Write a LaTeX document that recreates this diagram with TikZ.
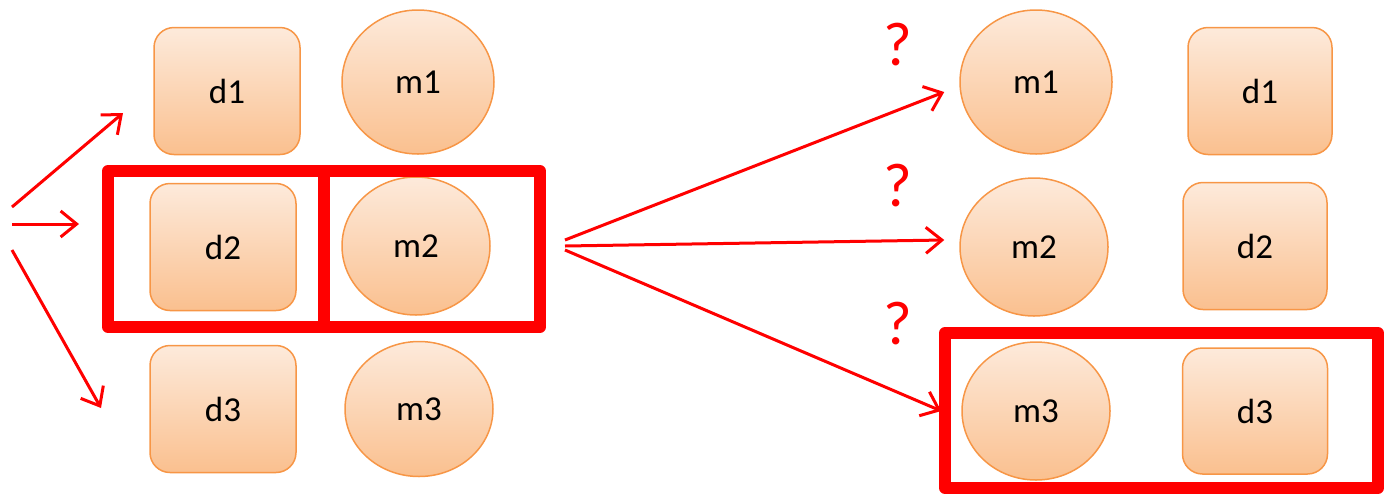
\documentclass[tikz,border=0pt]{standalone}
\usepackage{fontspec}
\setmainfont{Carlito}
\usetikzlibrary{shapes.geometric,arrows.meta}
\definecolor{boxtop}{RGB}{253,234,219}
\definecolor{boxbot}{RGB}{250,192,143}
\definecolor{boxline}{RGB}{247,150,70}
\definecolor{mark}{RGB}{255,0,0}
\tikzset{
  base/.style={draw=boxline, line width=1.5pt, top color=boxtop, bottom color=boxbot,
    inner sep=0pt, font=\fontsize{35}{35}\selectfont},
  docbox/.style={base, rectangle, rounded corners=20pt, minimum width=146pt, minimum height=127pt},
  modell/.style={base, ellipse, minimum width=148pt, minimum height=138pt},
  frame/.style={draw=mark, line width=12pt, line join=round},
  pointer/.style={draw=mark, line width=3pt, -{Straight Barb[length=16pt,width=26pt,line width=3pt]}},
  qmark/.style={text=mark, font=\fontsize{62}{62}\selectfont, inner sep=0pt}
}
\begin{document}
\begin{tikzpicture}[x=1pt,y=-1pt]
\useasboundingbox (0,0) rectangle (1384,499);

% left column
\node[docbox] (ld1) at (227,91) {d1};
\node[modell, minimum width=152pt, minimum height=144pt] (lm1) at (418,82) {m1};
\node[docbox] (ld2) at (223,247) {d2};
\node[modell] (lm2) at (416,246) {m2};
\node[docbox] (ld3) at (223,409) {d3};
\node[modell, minimum height=135pt] (lm3) at (419,409) {m3};

% right column
\node[modell, minimum width=152pt, minimum height=144pt] (rm1) at (1036,82) {m1};
\node[docbox, minimum width=144pt] (rd1) at (1260,91) {d1};
\node[modell] (rm2) at (1034,247) {m2};
\node[docbox, minimum width=144pt] (rd2) at (1255,246) {d2};
\node[modell] (rm3) at (1036,411) {m3};
\node[docbox, minimum width=145pt, minimum height=126pt] (rd3) at (1255,411) {d3};

% question marks
\node[qmark] (q1) at (898,45) {?};
\node[qmark] (q2) at (898,186) {?};
\node[qmark] (q3) at (898,324) {?};

% highlighted pairs
\draw[frame] (108,171) rectangle (324,327);
\draw[frame] (324,171) rectangle (540,327);
\draw[frame] (945,333) rectangle (1378,488);

% incoming arrows on the left
\coordinate (s1) at (12,207);
\coordinate (s2) at (12,224);
\coordinate (s3) at (12,250);
\coordinate (e1) at (123,113);
\coordinate (e2) at (79,224);
\coordinate (e3) at (101,408);
\draw[pointer] (s1) -- (e1);
\draw[pointer] (s2) -- (e2);
\draw[pointer] (s3) -- (e3);

% mapping arrows to the right column
\coordinate (o1) at (565,240);
\coordinate (o2) at (565,246);
\coordinate (o3) at (565,250);
\coordinate (t1) at ([xshift=-15pt,yshift=-10pt]rm1.west);
\coordinate (t2) at ([xshift=-15pt,yshift=7pt]rm2.west);
\coordinate (t3) at ([xshift=-20pt,yshift=0pt]rm3.west);
\draw[pointer] (o1) -- (t1);
\draw[pointer] (o2) -- (t2);
\draw[pointer] (o3) -- (t3);
\end{tikzpicture}
\end{document}
